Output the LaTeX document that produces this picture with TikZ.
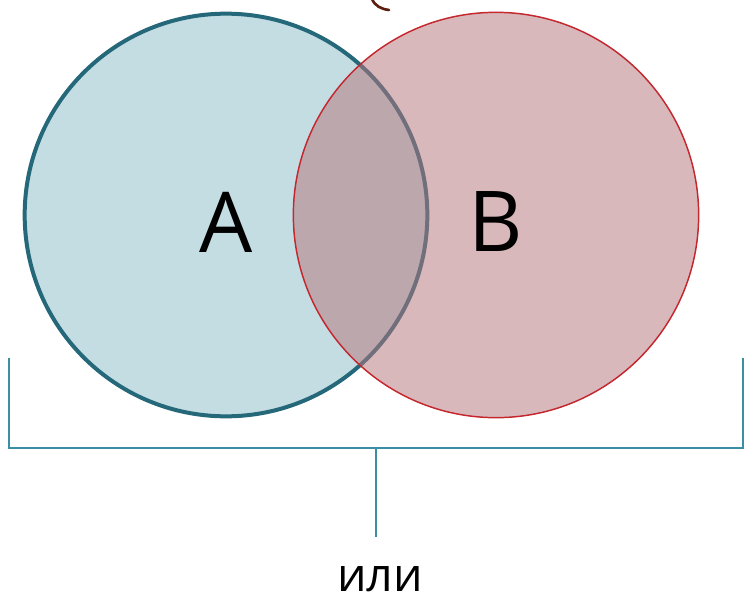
\documentclass[tikz,border=0pt]{standalone}
\usepackage{fontspec}
\setmainfont{Open Sans}
\usetikzlibrary{positioning}

\definecolor{setA}{RGB}{196,221,227}
\definecolor{setAedge}{RGB}{36,104,122}
\definecolor{setB}{RGB}{182,118,124}
\definecolor{setBedge}{RGB}{196,40,46}
\definecolor{brack}{RGB}{58,143,165}
\definecolor{curl}{RGB}{92,31,16}

\begin{document}
\begin{tikzpicture}[x=0.75pt,y=-0.75pt,
                setcircle/.style={circle, inner sep=0pt, font=\fontsize{63}{63}\selectfont},
                bracket/.style={draw=brack, line width=1.5pt}]
            \useasboundingbox (0,0) rectangle (744,593);

            \node[setcircle, minimum size=302pt, fill=setA, draw=setAedge, line width=3pt] (A) at (226,215) {};
            \node[setcircle, minimum size=304pt, fill=setB, fill opacity=0.52, text opacity=1,
                  draw=setBedge, line width=1.1pt] (B) at (496,215) {};
            \node[font=\fontsize{63}{63}\selectfont] (Alabel) at (226,222) {A};
            \node[font=\fontsize{63}{63}\selectfont] (Blabel) at (496,222) {B};

            % bracket under both sets
            \coordinate (bl) at (9,358);
            \coordinate (br) at (743,358);
            \coordinate (stemtop) at (376,448);
            \coordinate (stembot) at (376,537);
            \node[font=\fontsize{35}{35}\selectfont] (ili) at (380,579) {или};

            \draw[bracket] (bl) |- (br |- stemtop) -- (br);
            \draw[bracket] (stemtop) -- (stembot);

            % cut off curl at the top
            \coordinate (curlA) at (372,-1);
            \coordinate (curlB) at (389,10);
            \draw[curl, line width=2pt, line cap=round] (curlA) .. controls (375,6) and (381,9) .. (curlB);
        \end{tikzpicture}
\end{document}
